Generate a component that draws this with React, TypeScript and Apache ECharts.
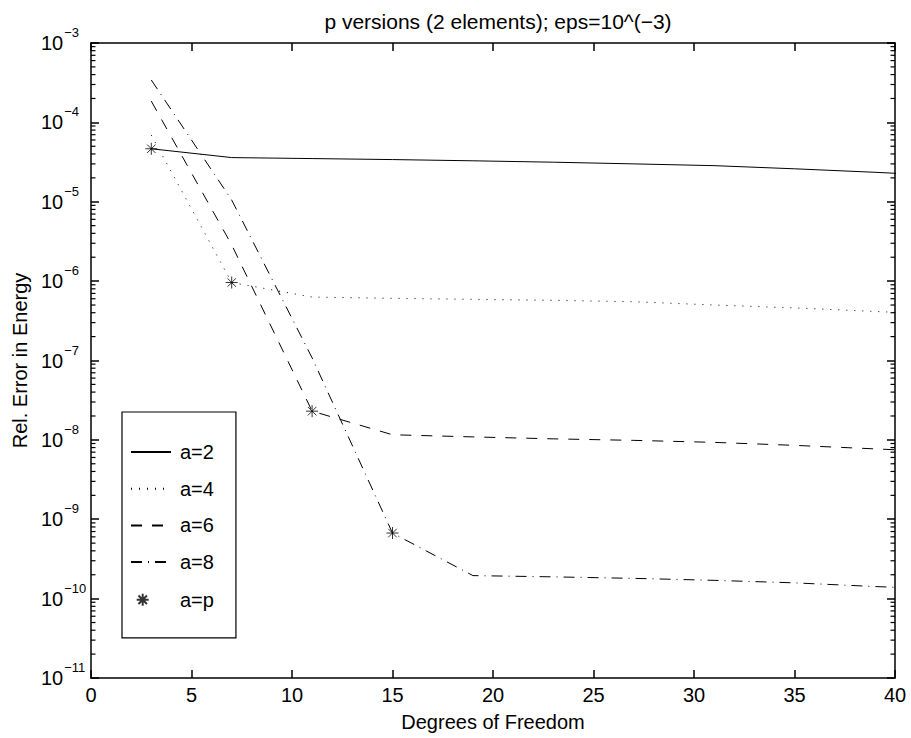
import React, { useEffect, useRef } from "react";
import * as echarts from "echarts";

// Degrees of freedom (x) for the p-version runs
const dof = [3, 7, 11, 15, 19, 23, 27, 31, 35, 39, 43];
// Relative error in energy per series
const a2 = [4.65e-5, 3.6e-5, 3.5e-5, 3.4e-5, 3.28e-5, 3.15e-5, 3.0e-5, 2.85e-5, 2.6e-5, 2.35e-5, 2.1e-5];
const a4 = [6.9e-5, 9.6e-7, 6.3e-7, 6.07e-7, 5.9e-7, 5.73e-7, 5.5e-7, 5.0e-7, 4.6e-7, 4.15e-7, 3.75e-7];
const a6 = [1.85e-4, 2.86e-6, 2.3e-8, 1.16e-8, 1.09e-8, 1.03e-8, 9.86e-9, 9.3e-9, 8.53e-9, 7.7e-9, 6.96e-9];
const a8 = [3.42e-4, 1.05e-5, 1.08e-7, 6.7e-10, 1.95e-10, 1.88e-10, 1.8e-10, 1.7e-10, 1.58e-10, 1.42e-10, 1.3e-10];
const apDof = [3, 7, 11, 15];
const ap = [4.65e-5, 9.6e-7, 2.3e-8, 6.7e-10];

const decadeExponents = [-11, -10, -9, -8, -7, -6, -5, -4];
const minorFactors = [2, 3, 4, 5, 6, 7, 8, 9];

const FONT = "'Liberation Sans', Arial, Helvetica, sans-serif";
const ASTERISK =
  "path://M5,0L5,10M0,5L10,5M1.46,1.46L8.54,8.54M8.54,1.46L1.46,8.54";
const LEGEND_ASTERISK =
  "path://M0,0M40,20M5.7,10L17.7,10M11.7,4L11.7,16M7.46,5.76L15.94,14.24M15.94,5.76L7.46,14.24";

export default function App() {
  const ref = useRef<HTMLDivElement>(null);

  useEffect(() => {
    const chart = echarts.init(ref.current!, undefined, { renderer: "svg" });

    const pairs = (xs: number[], ys: number[]) => xs.map((x, i) => [x, ys[i]]);

    const lineSeries = (name: string, ys: number[], type: any) => ({
      name,
      type: "line",
      data: pairs(dof, ys),
      symbol: "none",
      showSymbol: false,
      clip: true,
      lineStyle: { color: "#000", width: 1, type },
      itemStyle: { color: "#000" },
    });

    const mkAxisLine = () => ({ show: true, onZero: false, lineStyle: { color: "#000", width: 1.5 } });
    const mkAxisTick = () => ({
      show: true,
      inside: true,
      length: 8,
      lineStyle: { color: "#000", width: 1.5 },
    });

    const option: any = {
      animation: false,
      backgroundColor: "#fff",
      textStyle: { fontFamily: FONT, color: "#000" },
      title: {
        text: "p versions (2 elements); eps=10^(\u22123)",
        left: 493,
        top: 6,
        textAlign: "center",
        textStyle: { fontFamily: FONT, fontSize: 21, fontWeight: "normal", color: "#000" },
      },
      grid: { left: 91, right: 16, top: 43, bottom: 60, show: false },
      legend: {
        orient: "vertical",
        left: 122,
        top: 412,
        data: [
          { name: "a=2", itemStyle: { opacity: 0 } },
          { name: "a=4", itemStyle: { opacity: 0 } },
          { name: "a=6", itemStyle: { opacity: 0 } },
          { name: "a=8", itemStyle: { opacity: 0 } },
          { name: "a=p", icon: LEGEND_ASTERISK },
        ],
        itemWidth: 40,
        itemHeight: 20,
        itemGap: 16.7,
        padding: [30, 22, 27, 8],
        borderColor: "#000",
        borderWidth: 1.2,
        backgroundColor: "#fff",
        textStyle: { fontFamily: FONT, fontSize: 20, color: "#000", padding: [0, 0, 0, 4] },
      },
      xAxis: [
        {
          type: "value",
          min: 0,
          max: 40,
          interval: 5,
          position: "bottom",
          name: "Degrees of Freedom",
          nameLocation: "middle",
          nameGap: 34,
          nameTextStyle: { fontFamily: FONT, fontSize: 20, color: "#000" },
          axisLine: mkAxisLine(),
          axisTick: mkAxisTick(),
          axisLabel: { fontFamily: FONT, fontSize: 20, color: "#000", margin: 7 },
          splitLine: { show: false },
        },
        {
          type: "value",
          min: 0,
          max: 40,
          interval: 5,
          position: "top",
          axisLine: mkAxisLine(),
          axisTick: mkAxisTick(),
          axisLabel: { show: false },
          splitLine: { show: false },
        },
      ],
      yAxis: [
        {
          type: "log",
          logBase: 10,
          min: 1e-11,
          max: 1e-3,
          splitNumber: 8,
          position: "left",
          name: "Rel. Error in Energy",
          nameLocation: "middle",
          nameGap: 56,
          nameRotate: 90,
          nameTextStyle: { fontFamily: FONT, fontSize: 20, color: "#000" },
          axisLine: mkAxisLine(),
          axisTick: mkAxisTick(),
          axisLabel: {
            showMinLabel: true,
            showMaxLabel: true,
            align: "left",
            margin: 50,
            formatter: (v: number) => {
              const e = Math.round(Math.log10(v));
              return "{b|10}{s|\u2212" + Math.abs(e) + "}";
            },
            rich: {
              b: { fontFamily: FONT, fontSize: 20, color: "#000" },
              s: { fontFamily: FONT, fontSize: 13, color: "#000", padding: [0, 0, 21, 1] },
            },
          },
          splitLine: { show: false },
        },
        {
          type: "log",
          logBase: 10,
          min: 1e-11,
          max: 1e-3,
          splitNumber: 8,
          position: "right",
          axisLine: mkAxisLine(),
          axisTick: mkAxisTick(),
          axisLabel: { show: false },
          splitLine: { show: false },
        },
      ],
      series: [
        lineSeries("a=2", a2, "solid"),
        lineSeries("a=4", a4, [1, 7]),
        lineSeries("a=6", a6, [11, 10]),
        lineSeries("a=8", a8, [11, 6, 1, 6]),
        {
          name: "a=p",
          type: "scatter",
          data: pairs(apDof, ap),
          symbol: ASTERISK,
          symbolSize: 12,
          symbolKeepAspect: true,
          itemStyle: { color: "rgba(0,0,0,0)", borderColor: "#000", borderWidth: 1 },
          z: 5,
        },
      ],
    };

    chart.setOption(option);

    // Minor log ticks (2..9 per decade) placed through the axis scale
    const graphics: any[] = [];
    decadeExponents.forEach((e) =>
      minorFactors.forEach((f) => {
        const v = f * Math.pow(10, e);
        const l = chart.convertToPixel({ xAxisIndex: 0, yAxisIndex: 0 }, [0, v]) as number[];
        const r = chart.convertToPixel({ xAxisIndex: 0, yAxisIndex: 0 }, [40, v]) as number[];
        if (!l || !r || isNaN(l[1])) return;
        graphics.push({
          type: "line",
          silent: true,
          z: 100,
          shape: { x1: l[0], y1: l[1], x2: l[0] + 4.5, y2: l[1] },
          style: { stroke: "#000", lineWidth: 1.2 },
        });
        graphics.push({
          type: "line",
          silent: true,
          z: 100,
          shape: { x1: r[0] - 4.5, y1: r[1], x2: r[0], y2: r[1] },
          style: { stroke: "#000", lineWidth: 1.2 },
        });
      })
    );
    chart.setOption({ graphic: { elements: graphics } });

    return () => chart.dispose();
  }, []);

  return (
    <div
      ref={ref}
      style={{ position: "fixed", left: 0, top: 0, width: 911, height: 738, background: "#fff" }}
    />
  );
}
